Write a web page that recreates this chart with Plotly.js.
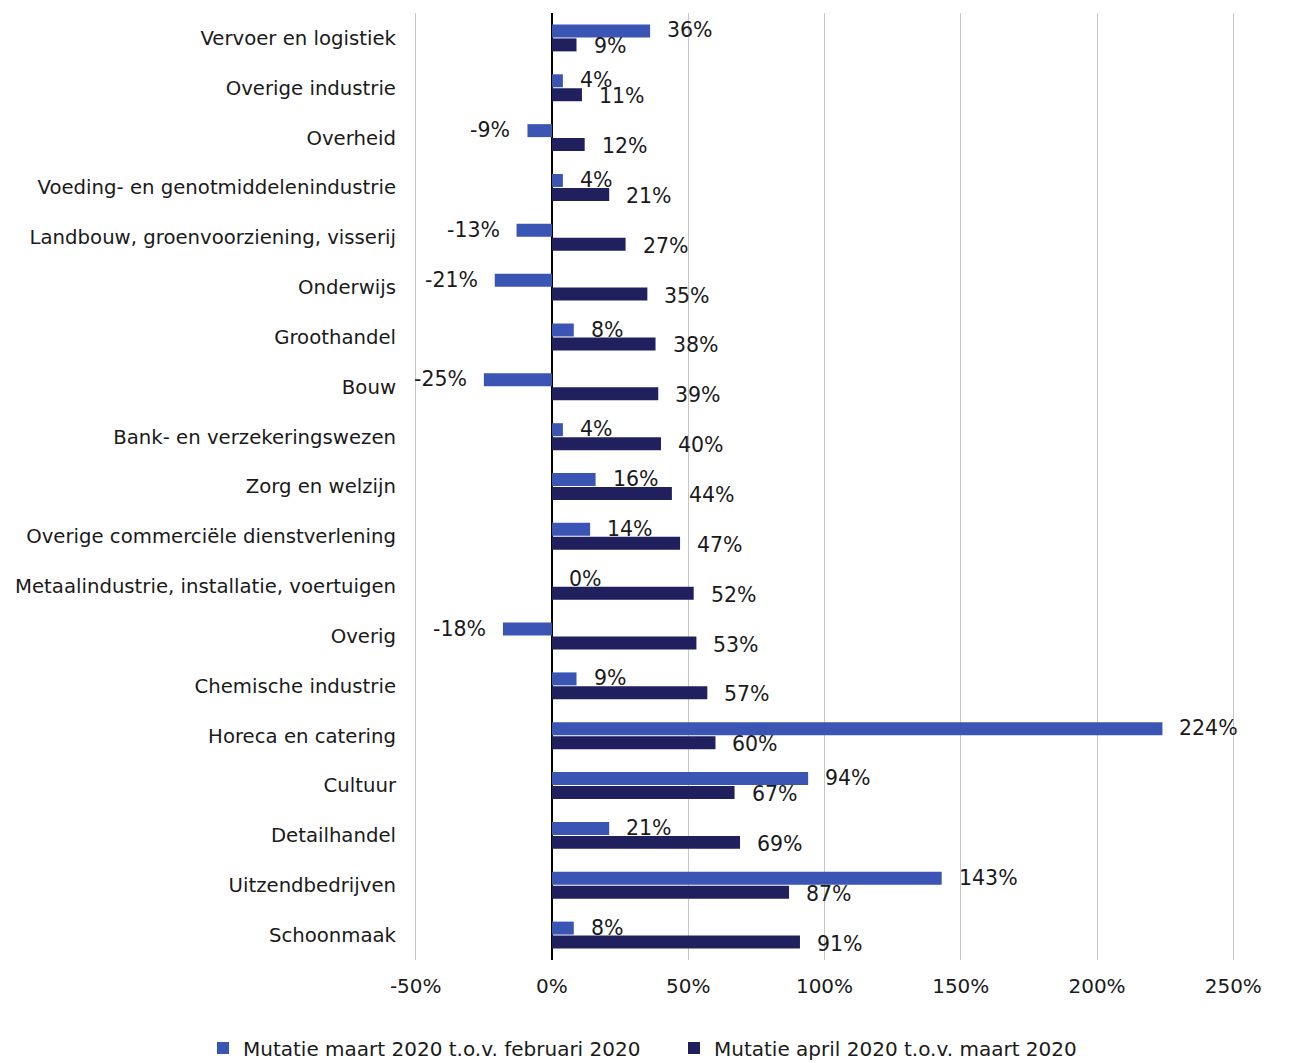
<!DOCTYPE html>
<html>
<head>
<meta charset="utf-8">
<script src="https://cdn.plot.ly/plotly-3.0.1.min.js"></script>
<style>html,body{margin:0;padding:0;background:#fff;}#chart{width:1299px;height:1063px;}</style>
</head>
<body>
<div id="chart"></div>
<script>
const categories = [
  "Vervoer en logistiek",
  "Overige industrie",
  "Overheid",
  "Voeding- en genotmiddelenindustrie",
  "Landbouw, groenvoorziening, visserij",
  "Onderwijs",
  "Groothandel",
  "Bouw",
  "Bank- en verzekeringswezen",
  "Zorg en welzijn",
  "Overige commerciële dienstverlening",
  "Metaalindustrie, installatie, voertuigen",
  "Overig",
  "Chemische industrie",
  "Horeca en catering",
  "Cultuur",
  "Detailhandel",
  "Uitzendbedrijven",
  "Schoonmaak"
];
const maartVsFebruari = [36, 4, -9, 4, -13, -21, 8, -25, 4, 16, 14, 0, -18, 9, 224, 94, 21, 143, 8];
const aprilVsMaart = [9, 11, 12, 21, 27, 35, 38, 39, 40, 44, 47, 52, 53, 57, 60, 67, 69, 87, 91];
const seriesNames = ["Mutatie maart 2020 t.o.v. februari 2020", "Mutatie april 2020 t.o.v. maart 2020"];
const tickValues = [-50, 0, 50, 100, 150, 200, 250];
const tickLabels = ["-50%", "0%", "50%", "100%", "150%", "200%", "250%"];

const colors = ["#3a55b4", "#20205f"];
const font = "DejaVu Sans, Verdana, sans-serif";
const txt = "#1a1a1a";

const traces = [maartVsFebruari, aprilVsMaart].map((vals, i) => ({
  type: "bar",
  orientation: "h",
  name: seriesNames[i],
  legend: i === 0 ? "legend" : "legend2",
  y: categories,
  x: vals,
  marker: {color: colors[i], line: {width: 0}},
  hoverinfo: "x+y"
}));

const offsets = [-0.15, 0.17];
const annotations = [];
[maartVsFebruari, aprilVsMaart].forEach((vals, i) => {
  vals.forEach((v, j) => {
    annotations.push({
      x: v, y: j + offsets[i], xref: "x", yref: "y",
      text: v + "%",
      showarrow: false,
      xanchor: v < 0 ? "right" : "left",
      yanchor: "middle",
      xshift: v < 0 ? -15 : 15,
      font: {family: font, size: 20.5, color: txt}
    });
  });
});

function legendAt(xPx) {
  return {orientation: "h", x: xPx / 1299, xref: "container", xanchor: "left",
          y: 1 - 1048 / 1063, yref: "container", yanchor: "middle",
          font: {family: font, size: 20, color: txt}, itemwidth: 30,
          bgcolor: "rgba(0,0,0,0)"};
}

const layout = {
  width: 1299, height: 1063,
  margin: {l: 413, r: 63, t: 13, b: 103},
  paper_bgcolor: "#ffffff", plot_bgcolor: "#ffffff",
  barmode: "group", bargap: 0.44, bargroupgap: 0.07,
  showlegend: true,
  legend: legendAt(203),
  legend2: legendAt(674),
  xaxis: {
    range: [-51, 251], tickmode: "array", tickvals: tickValues, ticktext: tickLabels,
    showgrid: true, gridcolor: "#c6c6c6", gridwidth: 1,
    zeroline: true, zerolinecolor: "#000000", zerolinewidth: 1.5,
    showline: false, ticks: "", ticklabelstandoff: 12,
    tickfont: {family: font, size: 20, color: txt}
  },
  yaxis: {
    type: "category", autorange: "reversed",
    showgrid: false, zeroline: false, showline: false, ticks: "",
    ticklabelstandoff: 16,
    tickfont: {family: font, size: 19.7, color: txt}
  },
  annotations: annotations
};

Plotly.newPlot("chart", traces, layout, {displayModeBar: false, staticPlot: true});
</script>
</body>
</html>
